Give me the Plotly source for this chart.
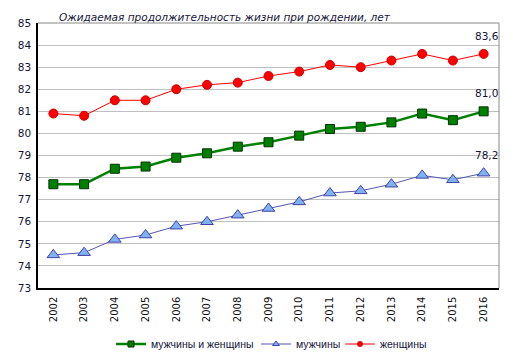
import plotly.graph_objects as go

years = ["2002", "2003", "2004", "2005", "2006", "2007", "2008", "2009",
         "2010", "2011", "2012", "2013", "2014", "2015", "2016"]
total = [77.7, 77.7, 78.4, 78.5, 78.9, 79.1, 79.4, 79.6, 79.9, 80.2, 80.3, 80.5, 80.9, 80.6, 81.0]
men = [74.5, 74.6, 75.2, 75.4, 75.8, 76.0, 76.3, 76.6, 76.9, 77.3, 77.4, 77.7, 78.1, 77.9, 78.2]
women = [80.9, 80.8, 81.5, 81.5, 82.0, 82.2, 82.3, 82.6, 82.8, 83.1, 83.0, 83.3, 83.6, 83.3, 83.6]
names = ["мужчины и женщины", "мужчины", "женщины"]
title_text = "Ожидаемая продолжительность жизни при рождении, лет"

FONT = "'DejaVu Sans', Verdana, sans-serif"
LFONT = "'Liberation Sans', Arial, sans-serif"
TXT = "#15153a"

W, H = 513, 359
L, R, T, B = 38, 14, 23, 71
PW, PH = W - L - R, H - T - B


def px_x(x):
    return (x - L) / PW


def px_y(y):
    return (H - B - y) / PH


styles = [
    dict(line=dict(color="#008000", width=2.5),
         marker=dict(symbol="square", size=9, color="#008000",
                     line=dict(color="#003300", width=1))),
    dict(line=dict(color="#5555b5", width=1),
         marker=dict(symbol="triangle-up", size=11, color="#7fb2f0",
                     line=dict(color="#4040a8", width=1))),
    dict(line=dict(color="#ff0000", width=1),
         marker=dict(symbol="circle", size=9, color="#ff0000",
                     line=dict(color="#cc0000", width=1))),
]
legend_styles = [
    dict(line=dict(color="#008000", width=2.5),
         marker=dict(symbol="square", size=6, color="#008000",
                     line=dict(color="#003300", width=1))),
    dict(line=dict(color="#5555b5", width=1),
         marker=dict(symbol="triangle-up", size=6, color="#7fb2f0",
                     line=dict(color="#4040a8", width=1))),
    dict(line=dict(color="#ff0000", width=1),
         marker=dict(symbol="circle", size=5, color="#ff0000",
                     line=dict(color="#cc0000", width=1))),
]
legend_ids = ["legend", "legend2", "legend3"]
legend_left_px = [111, 256, 340]

fig = go.Figure()
for series, name, st in zip((total, men, women), names, styles):
    fig.add_trace(go.Scatter(x=years, y=series, name=name, mode="lines+markers",
                             showlegend=False, **st))
# legend-only entries with small symbols, as in the reference legend
for name, st, lg in zip(names, legend_styles, legend_ids):
    fig.add_trace(go.Scatter(x=[None], y=[None], name=name, mode="lines+markers",
                             showlegend=True, legend=lg, hoverinfo="skip", **st))

annotations = []
for series in (women, total, men):
    v = series[-1]
    annotations.append(dict(
        x=len(years) - 1, y=v, xref="x", yref="y",
        text=f"{v:.1f}".replace(".", ","), showarrow=False,
        yshift=18, xshift=3, font=dict(family=FONT, size=10.5, color=TXT)))
annotations.append(dict(
    x=px_x(57), y=px_y(17), xref="paper", yref="paper",
    text="<i>" + title_text + "</i>", showarrow=False,
    xanchor="left", yanchor="middle",
    font=dict(family=FONT, size=10.5, color=TXT)))

legend_common = dict(orientation="h", yanchor="middle", y=px_y(344), xanchor="left",
                     font=dict(family=LFONT, size=10.5, color=TXT), itemwidth=30,
                     bgcolor="rgba(0,0,0,0)")
layout_legends = {}
for lg, lx in zip(legend_ids, legend_left_px):
    layout_legends[lg] = dict(legend_common, x=px_x(lx))

fig.update_layout(
    width=W, height=H,
    margin=dict(l=L, r=R, t=T, b=B, autoexpand=False),
    paper_bgcolor="white", plot_bgcolor="white",
    font=dict(family=FONT, size=10.5, color=TXT),
    showlegend=True,
    annotations=annotations,
    shapes=[
        dict(type="line", xref="paper", yref="paper", x0=0, x1=1, y0=1, y1=1,
             line=dict(color="#888888", width=1)),
        dict(type="line", xref="paper", yref="paper", x0=1, x1=1, y0=0, y1=1,
             line=dict(color="#888888", width=1)),
    ],
    **layout_legends,
)
fig.update_xaxes(type="category", range=[-0.5, 14.5], tickangle=-90,
                 showgrid=False, showline=True, linecolor="black", linewidth=1.5,
                 ticks="", ticklabelstandoff=3, automargin=False,
                 tickfont=dict(family=FONT, size=10, color="#111111"))
fig.update_yaxes(range=[73, 85], dtick=1, showgrid=True, gridcolor="#c0c0c0",
                 gridwidth=1, showline=True, linecolor="black", linewidth=1.5,
                 ticks="", zeroline=False, ticklabelstandoff=3, automargin=False,
                 tickfont=dict(family=FONT, size=10.5, color=TXT))

fig.write_html("out.html", config={"displayModeBar": False},
               post_script="document.body.style.margin='0';")
